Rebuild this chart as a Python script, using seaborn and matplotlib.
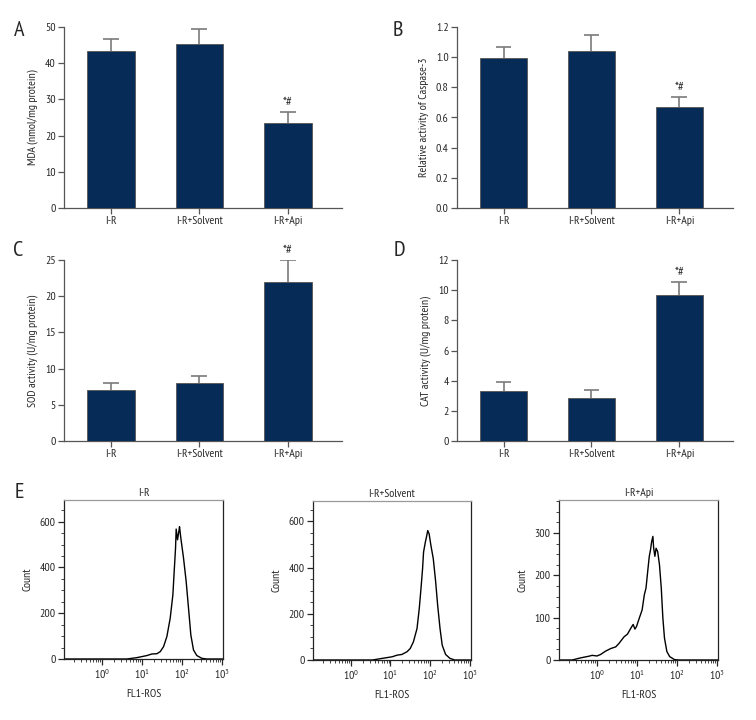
import numpy as np
import matplotlib
matplotlib.use("Agg")
import matplotlib.pyplot as plt
from matplotlib.ticker import MultipleLocator, LogLocator, NullFormatter, FormatStrFormatter
import seaborn as sns

# ---------------- data ----------------
categories = ["I-R", "I-R+Solvent", "I-R+Api"]

mda = [43.3, 45.3, 23.6]
mda_err = [3.5, 4.2, 3.0]

casp = [0.995, 1.04, 0.672]
casp_err = [0.075, 0.11, 0.064]

sod = [7.1, 8.03, 21.96]
sod_err = [0.97, 0.97, 2.99]

cat = [3.30, 2.88, 9.65]
cat_err = [0.60, 0.53, 0.87]

sig_marks = ["", "", "*#"]

# flow cytometry histograms (log10 of FL1-ROS, count)
e1_log = [-0.95, 0.625, 0.875, 1.125, 1.25, 1.375, 1.458, 1.542, 1.625, 1.708, 1.775,
          1.808, 1.842, 1.858, 1.892, 1.925, 1.942, 1.975, 2.042, 2.108, 2.167, 2.225,
          2.292, 2.375, 2.5, 2.625, 3.03]
e1_cnt = [0, 0, 6, 15, 22, 23, 32, 54, 98, 178, 280,
          382, 485, 568, 521, 558, 578, 528, 441, 339, 222, 105,
          39, 15, 3, 0, 0]

e2_log = [-0.95, 0.547, 0.796, 1.045, 1.17, 1.29, 1.42, 1.50, 1.58, 1.67, 1.727,
          1.77, 1.81, 1.835, 1.88, 1.908, 1.94, 1.975, 2.02, 2.08, 2.14, 2.19,
          2.25, 2.305, 2.39, 2.50, 2.62, 3.03]
e2_cnt = [0, 0, 7, 14, 21, 24, 36, 50, 79, 136, 223,
          309, 395, 467, 510, 532, 560, 546, 496, 438, 338, 237,
          136, 64, 24, 7, 0, 0]

e3_log = [-0.95, -0.62, -0.41, -0.20, -0.12, 0.0, 0.09, 0.217, 0.343, 0.47, 0.55,
          0.68, 0.763, 0.847, 0.906, 0.95, 0.99, 1.06, 1.13, 1.186, 1.228, 1.27,
          1.31, 1.34, 1.37, 1.40, 1.42, 1.45, 1.48, 1.52, 1.565, 1.61, 1.65,
          1.69, 1.75, 1.82, 1.94, 2.05, 3.03]
e3_cnt = [0, 0, 5, 9, 11, 9.5, 13, 21, 27, 31, 39,
          55, 61, 75, 84, 73, 79, 99, 118, 154, 170, 209,
          245, 260, 280, 292, 264, 245, 264, 256, 225, 170, 99,
          52, 20, 8, 1, 0, 0]

hist_titles = ["I-R", "I-R+Solvent", "I-R+Api"]

# ---------------- style ----------------
sns.set_style("ticks")
plt.rcParams["font.family"] = ["PT Sans Narrow", "DejaVu Sans"]
plt.rcParams["mathtext.fontset"] = "custom"
plt.rcParams["mathtext.rm"] = "PT Sans Narrow"
plt.rcParams["mathtext.it"] = "PT Sans Narrow"
plt.rcParams["mathtext.default"] = "regular"

BAR = "#062b56"
ERR = "#7a7a7a"
SPINE = "#555555"
FS = 8.5

fig = plt.figure(figsize=(7.56, 7.2), dpi=100)
W = 756.0
H = 720.0


def rect(l, r, t, b):
    return [l / W, 1 - b / H, (r - l) / W, (b - t) / H]


def bar_panel(rc, vals, errs, ylim, step, ylabel, fmt):
    ax = fig.add_axes(rc)
    sns.barplot(x=categories, y=vals, color=BAR, width=0.54, errorbar=None,
                edgecolor="#555555", linewidth=0.6, saturation=1, ax=ax)
    for p in ax.patches:
        p.set_zorder(3)
    xs = np.arange(len(categories))
    tops = np.array(vals) + np.array(errs)
    ax.vlines(xs, vals, tops, color=ERR, linewidth=1.2, zorder=2)
    ax.hlines(tops, xs - 0.09, xs + 0.09, color=ERR, linewidth=1.2, zorder=2)
    for x, t, s in zip(xs, tops, sig_marks):
        if s:
            ax.annotate(s, (x, t), xytext=(0, 2), textcoords="offset points",
                        ha="center", va="bottom", fontsize=FS + 1, color="#333333")
    ax.set_xlim(-0.53, 2.61)
    ax.set_ylim(*ylim)
    ax.yaxis.set_major_locator(MultipleLocator(step))
    ax.yaxis.set_major_formatter(FormatStrFormatter(fmt))
    ax.set_ylabel(ylabel, fontsize=FS, labelpad=5)
    ax.tick_params(labelsize=FS, length=4, width=0.9, color=SPINE, pad=2)
    for sp in ["top", "right"]:
        ax.spines[sp].set_visible(False)
    for sp in ["left", "bottom"]:
        ax.spines[sp].set_color(SPINE)
        ax.spines[sp].set_linewidth(0.9)
    return ax


bar_panel(rect(64, 342, 27, 208), mda, mda_err, (0, 50), 10, "MDA (nmol/mg protein)", "%d")
bar_panel(rect(457, 733, 27, 208), casp, casp_err, (0, 1.2), 0.2, "Relative activity of Caspase-3", "%.1f")
bar_panel(rect(64, 342, 260, 441), sod, sod_err, (0, 25), 5, "SOD activity (U/mg protein)", "%d")
bar_panel(rect(457, 733, 260, 441), cat, cat_err, (0, 12), 2, "CAT activity (U/mg protein)", "%d")


def hist_panel(rc, logs, cnts, title, ymax, major, minor):
    ax = fig.add_axes(rc)
    xv = np.power(10.0, np.array(logs))
    sns.lineplot(x=xv, y=cnts, sort=False, estimator=None, color="black",
                 linewidth=1.0, ax=ax)
    ax.set_xscale("log")
    ax.set_xlim(10 ** -0.95, 10 ** 3.03)
    ax.set_ylim(0, ymax)
    ax.set_xticks([1, 10, 100, 1000])
    ax.xaxis.set_minor_locator(LogLocator(base=10, subs=np.arange(2, 10), numticks=20))
    ax.xaxis.set_minor_formatter(NullFormatter())
    ax.yaxis.set_major_locator(MultipleLocator(major))
    ax.yaxis.set_minor_locator(MultipleLocator(minor))
    ax.tick_params(which="major", labelsize=FS, length=4, width=0.9, direction="out", pad=2)
    ax.tick_params(which="minor", length=2, width=0.6, direction="out")
    ax.set_xlabel("FL1-ROS", fontsize=FS, labelpad=6)
    ax.set_ylabel("Count", fontsize=FS, labelpad=5)
    ax.set_title(title, fontsize=FS, pad=3)
    for sp in ax.spines.values():
        sp.set_linewidth(0.9)
        sp.set_color("#222222")
    ax.spines["top"].set_color("#9a9a9a")
    return ax


hist_panel(rect(64, 223, 500, 659), e1_log, e1_cnt, hist_titles[0], 695, 200, 50)
hist_panel(rect(313, 471, 501, 660), e2_log, e2_cnt, hist_titles[1], 688, 200, 50)
hist_panel(rect(559, 718, 500, 660), e3_log, e3_cnt, hist_titles[2], 378, 100, 25)

# panel letters
for lab, (px, py) in {"A": (19, 31), "B": (398, 31), "C": (18, 250),
                      "D": (399, 250), "E": (19, 493)}.items():
    fig.text(px / W, 1 - py / H, lab, fontsize=16, ha="center", va="center")

fig.savefig("out.png", dpi=100)
